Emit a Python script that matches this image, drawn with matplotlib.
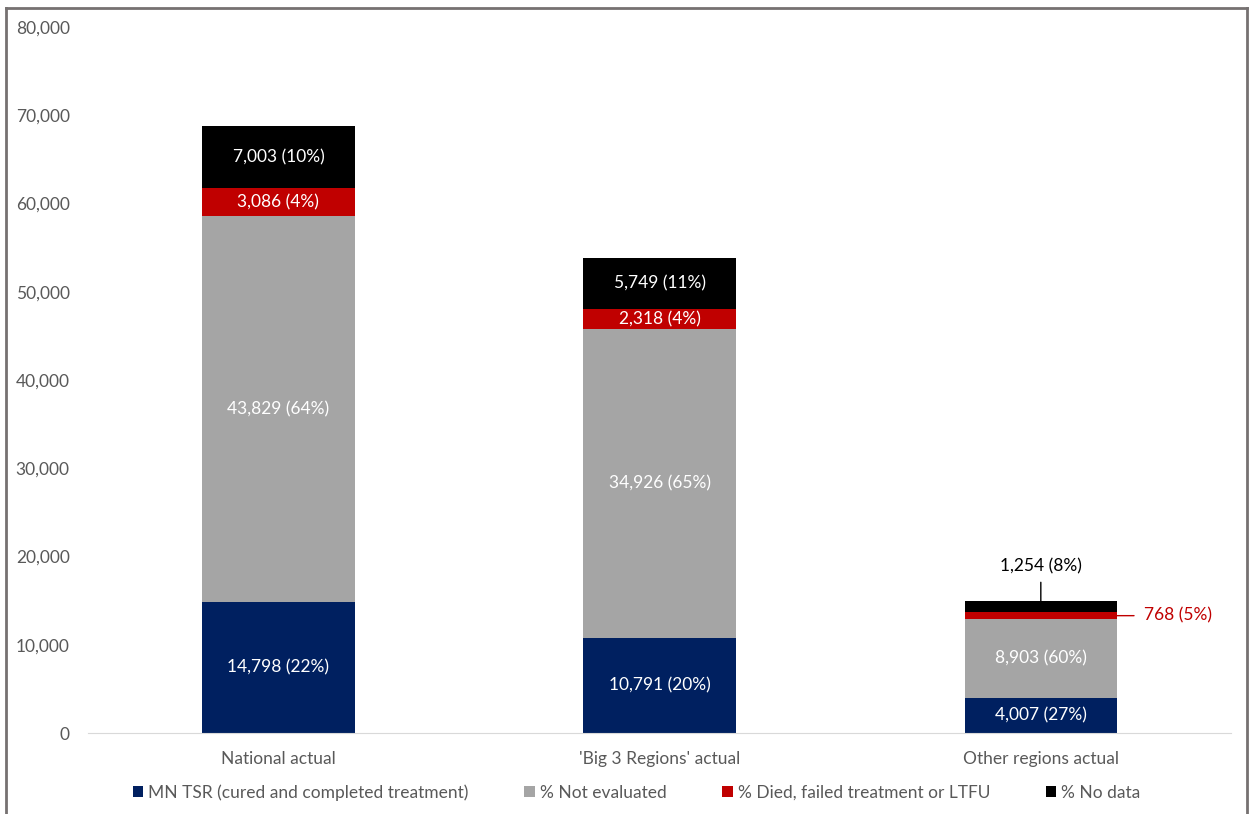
import matplotlib.pyplot as plt
from matplotlib.lines import Line2D
import numpy as np

plt.rcParams['font.family'] = ['Lato', 'DejaVu Sans']

categories = ['National actual', "'Big 3 Regions' actual", 'Other regions actual']
series = ['MN TSR (cured and completed treatment)', '% Not evaluated',
          '% Died, failed treatment or LTFU', '% No data']
tsr = [14798, 10791, 4007]
not_eval = [43829, 34926, 8903]
died = [3086, 2318, 768]
no_data = [7003, 5749, 1254]
pct_tsr = [22, 20, 27]
pct_not_eval = [64, 65, 60]
pct_died = [4, 4, 5]
pct_no_data = [10, 11, 8]

colors = ['#002060', '#A5A5A5', '#C00000', '#000000']

fig = plt.figure(figsize=(12.54, 8.14), dpi=100)
ax = fig.add_axes([0.070, 0.0995, 0.912, 0.8675])

x = np.arange(len(categories))
bottom = np.zeros(len(categories))
vals = [tsr, not_eval, died, no_data]
pcts = [pct_tsr, pct_not_eval, pct_died, pct_no_data]
for i, (v, p) in enumerate(zip(vals, pcts)):
    ax.bar(x, v, 0.4, bottom=bottom, color=colors[i], label=series[i], zorder=2)
    for j in range(len(categories)):
        lab = f'{v[j]:,} ({p[j]}%)'
        yc = bottom[j] + v[j] / 2
        if j == 2 and i == 3:
            # small segment: label above with leader line
            top = bottom[j] + v[j]
            ax.annotate(lab, xy=(x[j], top - 150), xytext=(x[j], top + 4000),
                        ha='center', va='center', fontsize=12.5, color='black',
                        arrowprops=dict(arrowstyle='-', color='black', lw=1,
                                        shrinkA=4, shrinkB=0))
        elif j == 2 and i == 2:
            ax.annotate(lab, xy=(x[j] + 0.2, yc), xytext=(x[j] + 0.27, yc),
                        ha='left', va='center', fontsize=12.5, color='#C00000',
                        arrowprops=dict(arrowstyle='-', color='#C00000', lw=1,
                                        shrinkA=5, shrinkB=0))
        else:
            ax.text(x[j], yc, lab, ha='center', va='center', fontsize=12.5,
                    color='white', zorder=3)
    bottom += np.array(v)

ax.set_xlim(-0.5, 2.5)
ax.set_ylim(0, 80000)
ax.set_yticks(np.arange(0, 80001, 10000))
ax.yaxis.set_major_formatter(plt.FuncFormatter(lambda v, _: f'{int(v):,}'))
ax.set_xticks(x)
ax.set_xticklabels(categories)
ax.tick_params(axis='both', length=0, labelsize=12.5, colors='#595959')
ax.tick_params(axis='y', pad=13)
ax.tick_params(axis='x', pad=13)
for s in ['top', 'right', 'left']:
    ax.spines[s].set_visible(False)
ax.spines['bottom'].set_color('#D9D9D9')

ax.legend(loc='upper center', bbox_to_anchor=(0.48, -0.05), ncol=4, frameon=False,
          fontsize=12.5, handlelength=0.6, handleheight=0.6, handletextpad=0.3,
          columnspacing=3.2, labelcolor='#595959')

# outer border
bc = '#767171'
fig.add_artist(Line2D([6/1254, 6/1254], [0, 1 - 8/814], color=bc, lw=2, transform=fig.transFigure))
fig.add_artist(Line2D([6/1254, 1247/1254], [1 - 8/814, 1 - 8/814], color=bc, lw=2, transform=fig.transFigure))
fig.add_artist(Line2D([1247/1254, 1247/1254], [0, 1 - 8/814], color=bc, lw=2, transform=fig.transFigure))

fig.savefig('out.png', dpi=100)
